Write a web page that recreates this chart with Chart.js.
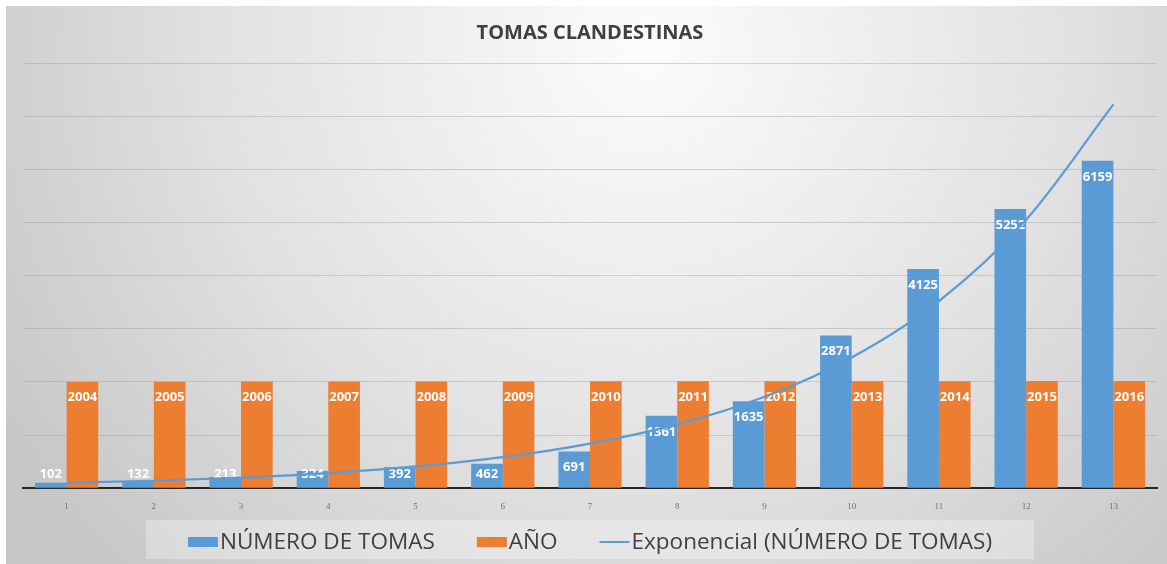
<!DOCTYPE html>
<html>
<head>
<meta charset="utf-8">
<title>Tomas clandestinas</title>
<script src="https://cdn.jsdelivr.net/npm/chart.js@4.4.1/dist/chart.umd.min.js"></script>
<style>
  body { margin: 0; background: #fff; }
  #box { position: absolute; left: 6px; top: 6px; width: 1161px; height: 558px; }
</style>
</head>
<body>
<div id="box"><canvas id="myChart" width="1161" height="558"></canvas></div>
<script>
// data
var categorias = ['1', '2', '3', '4', '5', '6', '7', '8', '9', '10', '11', '12', '13'];
var numeroTomas = [102, 132, 213, 324, 392, 462, 691, 1361, 1635, 2871, 4125, 5252, 6159];
var anios = [2004, 2005, 2006, 2007, 2008, 2009, 2010, 2011, 2012, 2013, 2014, 2015, 2016];
// trend line (exponential) as read at each category
var tendencia = [100, 140, 200, 285, 410, 585, 840, 1200, 1720, 2460, 3520, 5050, 7220];
var yMax = 8000;
var yPaso = 1000;

const azul = '#5b9bd5';
const naranja = '#ed7d31';
const fuente = '"Open Sans", "Liberation Sans", sans-serif';

// gray gradient background
const fondo = {
    id: 'fondo',
    beforeDraw(chart) {
        const c = chart.ctx;
        const g = c.createRadialGradient(640, 40, 0, 640, 40, 760);
        g.addColorStop(0, '#fcfcfc');
        g.addColorStop(0.55, '#e2e2e2');
        g.addColorStop(1, '#c6c6c6');
        c.save();
        c.fillStyle = g;
        c.fillRect(0, 0, chart.width, chart.height);
        c.restore();
    }
};

// white value labels inside the bars
const etiquetas = {
    id: 'etiquetas',
    afterDatasetDraw(chart, args) {
        const meta = args.meta;
        if (meta.type !== 'bar') return;
        const ds = chart.data.datasets[args.index];
        const c = chart.ctx;
        c.save();
        c.font = 'bold 13px ' + fuente;
        c.fillStyle = '#ffffff';
        c.textAlign = 'center';
        c.textBaseline = 'middle';
        meta.data.forEach(function (el, i) {
            const y = Math.min(el.y + 16, el.base - 13);
            c.fillText(String(ds.data[i]), el.x, y);
        });
        c.restore();
    }
};

// legend in its own lighter box
const leyenda = {
    id: 'leyenda',
    afterDraw(chart) {
        const c = chart.ctx;
        const items = chart.data.datasets.map(function (d) {
            return { texto: d.label, color: d.type === 'line' ? d.borderColor : d.backgroundColor, linea: d.type === 'line' };
        });
        c.save();
        c.font = '20px ' + fuente;
        const escala = 215 / c.measureText(items[0].texto).width;
        const tam = 20 * escala;
        c.font = tam + 'px ' + fuente;
        const caja = 30, hueco = 2, sep = 42, marg = 42;
        let total = 0;
        items.forEach(function (it, i) {
            it.w = c.measureText(it.texto).width;
            total += caja + hueco + it.w + (i < items.length - 1 ? sep : 0);
        });
        const cx = 584;
        let x = cx - total / 2;
        const yc = 536;
        c.fillStyle = 'rgba(255,255,255,0.3)';
        c.fillRect(x - marg, 514, total + 2 * marg, 39);
        c.textBaseline = 'middle';
        c.textAlign = 'left';
        items.forEach(function (it) {
            if (it.linea) {
                c.strokeStyle = it.color;
                c.lineWidth = 2;
                c.beginPath();
                c.moveTo(x, yc);
                c.lineTo(x + caja, yc);
                c.stroke();
            } else {
                c.fillStyle = it.color;
                c.fillRect(x, yc - 5, caja, 10);
            }
            x += caja + hueco;
            c.fillStyle = '#404040';
            c.fillText(it.texto, x, yc + 1);
            x += it.w + sep;
        });
        c.restore();
    }
};

const ctx = document.getElementById('myChart').getContext('2d');

const myChart = new Chart(ctx, {
    type: 'bar',
    data: {
        labels: categorias,
        datasets: [
            {
                label: 'NÚMERO DE TOMAS',
                data: numeroTomas,
                backgroundColor: azul,
                categoryPercentage: 0.725,
                barPercentage: 1.0,
                order: 1
            },
            {
                label: 'AÑO',
                data: anios,
                backgroundColor: naranja,
                categoryPercentage: 0.725,
                barPercentage: 1.0,
                order: 1
            },
            {
                label: 'Exponencial (NÚMERO DE TOMAS)',
                type: 'line',
                data: tendencia,
                borderColor: azul,
                backgroundColor: azul,
                borderWidth: 2.2,
                pointRadius: 0,
                fill: false,
                cubicInterpolationMode: 'monotone',
                order: 0
            }
        ]
    },
    options: {
        responsive: false,
        animation: false,
        devicePixelRatio: 1,
        layout: { padding: { left: 17, right: 10, top: 0, bottom: 39 } },
        plugins: {
            legend: { display: false },
            tooltip: { enabled: false },
            title: {
                display: true,
                text: 'TOMAS CLANDESTINAS',
                color: '#404040',
                font: { family: fuente, size: 20, weight: 'bold' },
                padding: { top: 15, bottom: 18 }
            }
        },
        scales: {
            x: {
                grid: { display: false, drawTicks: false },
                border: { display: true, color: '#262626', width: 2 },
                ticks: {
                    color: '#707070',
                    font: { family: '"Liberation Serif", serif', size: 9 },
                    padding: 13
                }
            },
            y: {
                min: 0,
                max: yMax,
                ticks: { display: false, stepSize: yPaso },
                grid: { color: 'rgba(150,150,150,0.38)', lineWidth: 1, drawTicks: false },
                border: { display: false },
                afterFit: function (s) { s.width = 0; }
            }
        }
    },
    plugins: [fondo, etiquetas, leyenda]
});
</script>
</body>
</html>
